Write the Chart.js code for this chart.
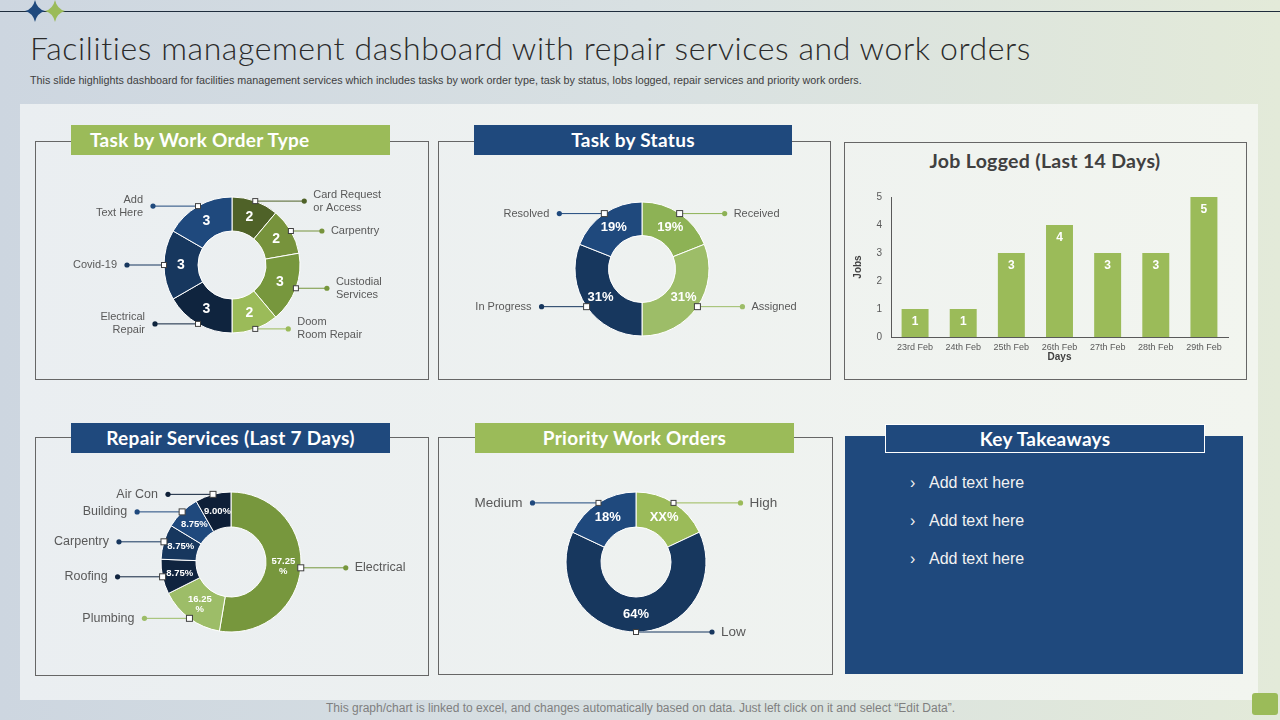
<!DOCTYPE html>
<html>
<head>
<meta charset="utf-8">
<script src="https://cdn.jsdelivr.net/npm/chart.js@4.4.1/dist/chart.umd.min.js"></script>
<style>
  body { margin: 0; width: 1280px; height: 720px; overflow: hidden; position: relative;
         background: linear-gradient(90deg, #cdd6e0 0%, #d8e0e2 50%, #e3ead9 100%);
         font-family: 'Liberation Sans', Arial, sans-serif; }
  .abs { position: absolute; }
  .topline { left: 0; top: 11px; width: 1280px; height: 1px; background: #1f2d3d; }
  .title { left: 30px; top: 28px; font-family: 'Lato', sans-serif; font-weight: 300; font-size: 32px; letter-spacing: 0.6px; color: #2b2b2b; white-space: nowrap; }
  .subtitle { left: 30px; top: 74px; font-size: 10.75px; color: #404040; white-space: nowrap; }
  .board { left: 20px; top: 104px; width: 1238px; height: 596px; background: linear-gradient(90deg, #eaeef1, #f2f5ef); }
  .box { border: 1px solid #666; box-sizing: border-box; }
  .head { height: 30px; line-height: 30px; color: #fff; font-family: 'Lato', sans-serif; font-weight: 700; font-size: 19px; letter-spacing: 0.3px; text-align: center; white-space: nowrap; }
  .green { background: #9bbb59; }
  .blue { background: #1f497d; }
  .jobtitle { left: 844px; top: 149px; width: 402px; text-align: center; font-family: 'Lato', sans-serif; font-weight: 700; font-size: 19.5px; letter-spacing: 0.3px; color: #404040; }
  .takeaways { left: 845px; top: 436px; width: 398px; height: 238px; background: #1f497d; }
  .item { left: 910px; font-size: 16px; color: #f2f2f2; white-space: nowrap; }
  .item span { display: inline-block; width: 19px; }
  .footer { left: 326px; top: 701px; font-family: 'Liberation Sans Narrow', 'Liberation Sans', sans-serif; font-size: 12px; color: #7f7f7f; white-space: nowrap; }
  .corner { left: 1252px; top: 693px; width: 26px; height: 22px; background: #9bbb59; border-radius: 3px; }
  canvas { position: absolute; }
</style>
</head>
<body>
<div class="abs topline"></div>
<svg class="abs" style="left:0;top:0" width="80" height="24">
  <path d="M35,0 Q37,9 45,11 Q37,13 35,22 Q33,13 25,11 Q33,9 35,0Z" fill="#1f497d"/>
  <path d="M55,0 Q57,9 65,11 Q57,13 55,22 Q53,13 45,11 Q53,9 55,0Z" fill="#9bbb59"/>
</svg>
<div class="abs title">Facilities management dashboard with repair services and work orders</div>
<div class="abs subtitle">This slide highlights dashboard for facilities management services which includes tasks by work order type, task by status, lobs logged, repair services and priority work orders.</div>
<div class="abs board"></div>

<div class="abs box" style="left:35px;top:141px;width:394px;height:239px"></div>
<div class="abs head green" style="left:71px;top:125px;width:319px;text-align:left;padding-left:19px;box-sizing:border-box">Task by Work Order Type</div>

<div class="abs box" style="left:438px;top:141px;width:393px;height:239px"></div>
<div class="abs head blue" style="left:474px;top:125px;width:318px">Task by Status</div>

<div class="abs box" style="left:844px;top:142px;width:403px;height:238px"></div>
<div class="abs jobtitle">Job Logged (Last 14 Days)</div>

<div class="abs box" style="left:35px;top:437px;width:394px;height:239px"></div>
<div class="abs head blue" style="left:71px;top:423px;width:319px">Repair Services (Last 7 Days)</div>

<div class="abs box" style="left:438px;top:437px;width:395px;height:238px"></div>
<div class="abs head green" style="left:475px;top:423px;width:319px">Priority Work Orders</div>

<div class="abs takeaways"></div>
<div class="abs head blue" style="left:885px;top:424px;width:320px;height:29px;line-height:27px;border:1px solid #fff;box-sizing:border-box">Key Takeaways</div>
<div class="abs item" style="top:474px"><span>›</span>Add text here</div>
<div class="abs item" style="top:512px"><span>›</span>Add text here</div>
<div class="abs item" style="top:550px"><span>›</span>Add text here</div>

<div class="abs footer">This graph/chart is linked to excel, and changes automatically based on data. Just left click on it and select “Edit Data”.</div>
<div class="abs corner"></div>

<canvas id="workOrderChart" style="left:37px;top:155px" width="390" height="220"></canvas>
<canvas id="statusChart" style="left:447px;top:159px" width="390" height="220"></canvas>
<canvas id="jobChart" style="left:846px;top:182px" width="396" height="183"></canvas>
<canvas id="repairChart" style="left:36px;top:452px" width="390" height="220"></canvas>
<canvas id="priorityChart" style="left:441px;top:452px" width="390" height="220"></canvas>

<script>
// Task by work order type
const workOrderLabels = [['Card Request', 'or Access'], ['Carpentry'], ['Custodial', 'Services'], ['Doom', 'Room Repair'], ['Electrical', 'Repair'], ['Covid-19'], ['Add', 'Text Here']];
const workOrderValues = [2, 2, 3, 2, 3, 3, 3];
const workOrderColors = ['#4f6228', '#77933c', '#77973d', '#9bbb59', '#0f243e', '#17375e', '#1f497d'];

// Task by status (%)
const statusLabels = [['Received'], ['Assigned'], ['In Progress'], ['Resolved']];
const statusValues = [19, 31, 31, 19];
const statusColors = ['#8db255', '#9dbd68', '#17375e', '#1f497d'];

// Job logged
const jobDays = ['23rd Feb', '24th Feb', '25th Feb', '26th Feb', '27th Feb', '28th Feb', '29th Feb'];
const jobCounts = [1, 1, 3, 4, 3, 3, 5];
const jobTicks = [0, 1, 2, 3, 4, 5];

// Repair services (%)
const repairLabels = [['Electrical'], ['Plumbing'], ['Roofing'], ['Carpentry'], ['Building'], ['Air Con']];
const repairValues = [57.25, 16.25, 8.75, 8.75, 8.75, 9.00];
const repairColors = ['#77973d', '#9dbd68', '#10243f', '#17375e', '#1f497d', '#0e1f38'];

// Priority work orders (%)
const priorityLabels = [['High'], ['Low'], ['Medium']];
const priorityValues = [18, 64, 18];
const priorityText = ['XX%', '64%', '18%'];
const priorityColors = ['#9bbb59', '#17375e', '#1f497d'];

// draws value text inside each slice plus the leader line, dot and label outside
const calloutPlugin = {
    id: 'callouts',
    afterDatasetsDraw(chart, args, opts) {
        const ctx = chart.ctx;
        const ds = chart.data.datasets[0];
        chart.getDatasetMeta(0).data.forEach((arc, i) => {
            const p = arc.getProps(['x', 'y', 'startAngle', 'endAngle', 'innerRadius', 'outerRadius']);
            const mid = (p.startAngle + p.endAngle) / 2;
            const cos = Math.cos(mid), sin = Math.sin(mid);
            const color = ds.backgroundColor[i];
            ctx.save();

            // leader line
            const len = Array.isArray(opts.lineLength) ? opts.lineLength[i] : opts.lineLength;
            const ax = p.x + cos * p.outerRadius, ay = p.y + sin * p.outerRadius;
            const right = cos > -0.01;
            const ex = ax + (right ? len : -len);
            ctx.strokeStyle = color;
            ctx.lineWidth = 1;
            ctx.beginPath();
            ctx.moveTo(ax, ay);
            ctx.lineTo(ex, ay);
            ctx.stroke();
            ctx.fillStyle = color;
            ctx.beginPath();
            ctx.arc(ex, ay, 2.6, 0, Math.PI * 2);
            ctx.fill();
            const s = opts.square;
            ctx.fillStyle = '#fff';
            ctx.strokeStyle = '#404040';
            ctx.fillRect(ax - s / 2, ay - s / 2, s, s);
            ctx.strokeRect(ax - s / 2, ay - s / 2, s, s);

            // category label
            const lines = chart.data.labels[i];
            ctx.font = opts.labelFont;
            ctx.fillStyle = '#595959';
            ctx.textAlign = right ? 'left' : 'right';
            ctx.textBaseline = 'middle';
            const lh = opts.labelLine;
            lines.forEach((t, k) => {
                ctx.fillText(t, ex + (right ? 9 : -10), ay + (k - (lines.length - 1) / 2) * lh);
            });

            // value
            const rm = (p.innerRadius + p.outerRadius) / 2;
            const vx = p.x + cos * rm, vy = p.y + sin * rm;
            const vLines = opts.valueText[i].split('\n');
            ctx.font = opts.valueFont;
            ctx.fillStyle = '#fff';
            ctx.textAlign = 'center';
            vLines.forEach((t, k) => {
                ctx.fillText(t, vx, vy + (k - (vLines.length - 1) / 2) * opts.valueLine);
            });
            ctx.restore();
        });
    }
};

function makeDonut(id, labels, values, colors, radius, callouts) {
    new Chart(document.getElementById(id), {
        type: 'doughnut',
        data: {
            labels: labels,
            datasets: [{
                data: values,
                backgroundColor: colors,
                borderColor: '#ffffff',
                borderWidth: 1
            }]
        },
        options: {
            responsive: false,
            animation: false,
            radius: radius,
            cutout: '50%',
            plugins: {
                legend: { display: false },
                tooltip: { enabled: false },
                callouts: callouts
            }
        },
        plugins: [calloutPlugin]
    });
}

makeDonut('workOrderChart', workOrderLabels, workOrderValues, workOrderColors, 68, {
    lineLength: [49, 31, 31, 33, 43, 37, 45], square: 5, labelFont: '11px "Liberation Sans"', labelLine: 13,
    valueFont: 'bold 14px "Liberation Sans"', valueLine: 14,
    valueText: workOrderValues.map(v => String(v))
});

makeDonut('statusChart', statusLabels, statusValues, statusColors, 67, {
    lineLength: 45, square: 6, labelFont: '11px "Liberation Sans"', labelLine: 13,
    valueFont: 'bold 13px "Liberation Sans"', valueLine: 13,
    valueText: statusValues.map(v => v + '%')
});

makeDonut('repairChart', repairLabels, repairValues, repairColors, 70, {
    lineLength: 45, square: 6, labelFont: '12.5px "Liberation Sans"', labelLine: 14,
    valueFont: 'bold 9.5px "Liberation Sans"', valueLine: 10,
    valueText: repairValues.map(v => v >= 10 ? v.toFixed(2) + '\n%' : v.toFixed(2) + '%')
});

makeDonut('priorityChart', priorityLabels, priorityValues, priorityColors, 70, {
    lineLength: [67, 76, 66], square: 5, labelFont: '13.5px "Liberation Sans"', labelLine: 15,
    valueFont: 'bold 13px "Liberation Sans"', valueLine: 13,
    valueText: priorityText
});

// bar value labels
const barLabelPlugin = {
    id: 'barLabels',
    afterDatasetsDraw(chart) {
        const ctx = chart.ctx;
        ctx.save();
        ctx.font = 'bold 12px "Liberation Sans"';
        ctx.fillStyle = '#fff';
        ctx.textAlign = 'center';
        ctx.textBaseline = 'middle';
        chart.getDatasetMeta(0).data.forEach((bar, i) => {
            ctx.fillText(String(jobCounts[i]), bar.x, bar.y + 13);
        });
        ctx.restore();
    }
};

new Chart(document.getElementById('jobChart'), {
    type: 'bar',
    data: {
        labels: jobDays,
        datasets: [{
            data: jobCounts,
            backgroundColor: '#9bbb59',
            barPercentage: 0.56,
            categoryPercentage: 1
        }]
    },
    options: {
        responsive: false,
        animation: false,
        layout: { padding: { top: 15, right: 14, left: 0, bottom: 0 } },
        plugins: { legend: { display: false }, tooltip: { enabled: false } },
        scales: {
            x: {
                grid: { display: false, drawTicks: false },
                border: { display: true, color: '#595959' },
                ticks: { color: '#595959', font: { size: 9, family: 'Liberation Sans' }, padding: 5, maxRotation: 0 },
                title: { display: true, text: 'Days', color: '#404040', font: { size: 10, weight: 'bold', family: 'Liberation Sans' }, padding: { top: 0, bottom: 2 } },
                afterFit: s => { s.height = 28; }
            },
            y: {
                min: 0,
                max: 5,
                grid: { display: false, drawTicks: false },
                border: { display: true, color: '#595959' },
                afterBuildTicks: s => { s.ticks = jobTicks.map(v => ({ value: v })); },
                ticks: { color: '#595959', font: { size: 10, family: 'Liberation Sans' }, padding: 9 },
                title: { display: true, text: 'Jobs', color: '#404040', font: { size: 10, weight: 'bold', family: 'Liberation Sans' }, padding: { top: 6, bottom: 0 } },
                afterFit: s => { s.width = 45; }
            }
        }
    },
    plugins: [barLabelPlugin]
});
</script>
</body>
</html>
